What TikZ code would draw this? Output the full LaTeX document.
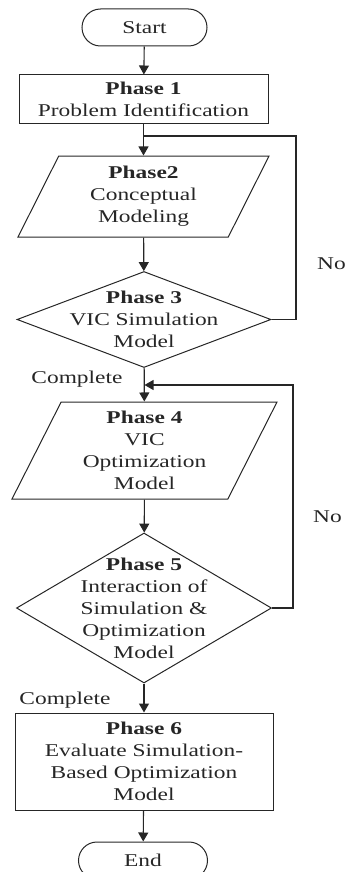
\documentclass[tikz,border=0pt]{standalone}
\usepackage{fontspec}
\setmainfont{Liberation Serif}[FakeStretch=1.3]
\usetikzlibrary{shapes.geometric,shapes.misc,arrows.meta}

\begin{document}
\begin{tikzpicture}[x=1pt,y=-1pt,font=\fontsize{18}{22}\selectfont,
  every node/.style={align=center,text=black!85},
  terminal/.style={rounded rectangle,draw=black!85,line width=1pt,minimum height=37pt,inner sep=0pt},
  phasebox/.style={rectangle,draw=black!85,line width=1pt,inner sep=0pt},
  iobox/.style={trapezium,draw=black!85,line width=1pt,trapezium stretches body,inner sep=0pt},
  decision/.style={diamond,draw=black!85,line width=1pt,inner sep=0pt},
  flowline/.style={line width=1.1pt,draw=black!85,-{Triangle[length=9pt,width=10pt]}}]
\useasboundingbox (0,0) rectangle (348,872);
\node[terminal,minimum width=125pt] (start) at (144.5,27.5) {Start};
\node[phasebox,minimum width=249pt,minimum height=49pt] (p1) at (143.5,99.5)
  {\textbf{Phase 1}\\Problem Identification};
\node[iobox,trapezium left angle=56,trapezium right angle=124,
  minimum width=251pt,minimum height=81pt] (p2) at (143.5,196.5)
  {\textbf{Phase2}\\Conceptual\\Modeling};
\node[decision,minimum width=254pt,minimum height=96pt,
  label={center:\textbf{Phase 3}\\VIC Simulation\\Model}] (p3) at (144,319.5) {};
\node[iobox,trapezium left angle=58,trapezium right angle=122,
  minimum width=265pt,minimum height=97pt] (p4) at (144.5,450.5)
  {\textbf{Phase 4}\\VIC\\Optimization\\Model};
\node[decision,minimum width=255pt,minimum height=150pt,
  label={center:\textbf{Phase 5}\\Interaction of\\Simulation \&\\Optimization\\Model}] (p5) at (144,608) {};
\node[phasebox,minimum width=258pt,minimum height=97pt] (p6) at (144,761.5)
  {\textbf{Phase 6}\\Evaluate Simulation-\\Based Optimization\\Model};
\node[terminal,minimum width=129pt] (end) at (143,860.5) {End};
% labels
\node[anchor=east,inner sep=1pt] (no1) at (347,264) {No};
\node[anchor=east,inner sep=1pt] (no2) at (343,517) {No};
\node[anchor=east] (ok1) at (126,379) {Complete};
\node[anchor=east] (ok2) at (114,700) {Complete};
% main flow
\foreach \A/\B in {start/p1,p1/p2,p2/p3,p3/p4,p4/p5,p5/p6,p6/end}
  \draw[flowline] (\A) -- (\B);
% feedback loops
\coordinate (j1) at (296,136);
\coordinate (j2) at (293,385);
\draw[line width=1.1pt,draw=black!85] (p3.east) -| (j1) -- (j1 -| p2.north);
\draw[flowline] (p5.east) -| (j2) -- (j2 -| p4.north);
\end{tikzpicture}
\end{document}
